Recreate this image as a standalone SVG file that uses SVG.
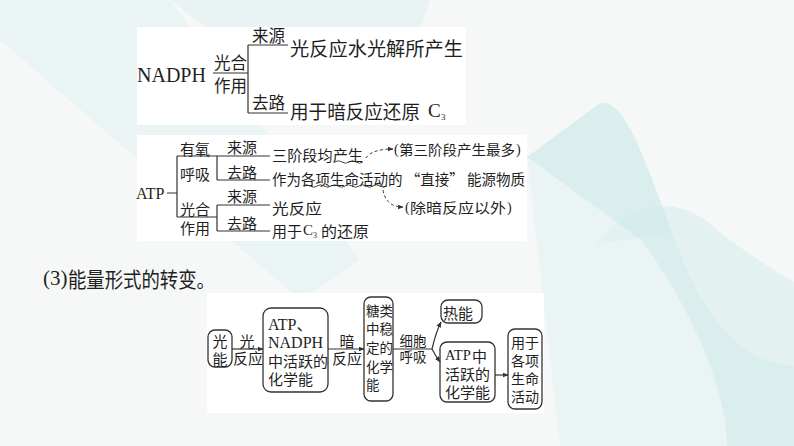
<svg xmlns="http://www.w3.org/2000/svg" width="794" height="446" viewBox="0 0 794 446">
<defs>
<style>
.cj{font-family:"Noto Sans CJK SC","Noto Sans",sans-serif;fill:#1f1f1f;dominant-baseline:central}
.lt{font-family:"Liberation Serif","Noto Sans CJK SC",serif;fill:#1f1f1f;dominant-baseline:central}
.ln{stroke:#333;stroke-width:1.2;fill:none}
.bx{stroke:#333;stroke-width:1.3;fill:#fff}
.dash{stroke:#333;stroke-width:1;fill:none;stroke-dasharray:3 2.5}
.wv{stroke:#333;stroke-width:0.9;fill:none}
.panel{fill:#fff}
</style>
<marker id="ah" viewBox="0 0 10 10" refX="9" refY="5" markerWidth="6" markerHeight="6" orient="auto" markerUnits="userSpaceOnUse">
<path d="M0,1 L10,5 L0,9 Z" fill="#333"/>
</marker>
</defs>
<!-- background -->
<rect x="0" y="0" width="794" height="446" fill="#f6f8f8"/>
<path d="M0,0 L170,0 L360,260 L300,300 L0,40 Z" fill="#d9eeee" opacity="0.4"/>
<path d="M170,0 L430,0 L420,30 L250,60 Z" fill="#d4ecec" opacity="0.35"/>
<path d="M527,157 L600,103 C625,98 645,160 672,232 C700,310 735,362 794,366 L794,446 L727,446 C727,400 700,320 641,240 Z" fill="#cfe9e9" opacity="0.7"/>
<path d="M595,245 C625,205 670,195 705,220 C735,245 760,262 794,282 L794,366 C735,362 700,310 672,232 Z" fill="#cfe9e9" opacity="0.5"/>
<path d="M527,157 L641,240 C700,320 727,400 727,446 L560,446 Z" fill="#e3f1f1" opacity="0.6"/>

<!-- panels -->
<rect class="panel" x="137" y="27" width="329" height="98"/>
<rect class="panel" x="137" y="135" width="390" height="106"/>
<rect class="panel" x="207" y="293" width="337" height="120"/>

<!-- heading -->
<g id="heading">
<text class="lt" x="43" y="278" font-size="21">(3)</text>
<text class="cj" x="68" y="278" font-size="21" textLength="147" lengthAdjust="spacingAndGlyphs">能量形式的转变。</text>
</g>

<!-- NADPH panel -->
<g id="nadph">
<text class="lt" x="137" y="75" font-size="20">NADPH</text>
<text class="cj" x="214" y="62" font-size="16.5">光合</text>
<text class="cj" x="214" y="85" font-size="16.5">作用</text>
<text class="cj" x="252" y="35" font-size="16.5">来源</text>
<text class="cj" x="252" y="102" font-size="16.5">去路</text>
<text class="cj" x="290" y="47" font-size="19" textLength="173" lengthAdjust="spacingAndGlyphs">光反应水光解所产生</text>
<text class="cj" x="290" y="110" font-size="19" textLength="130" lengthAdjust="spacingAndGlyphs">用于暗反应还原</text>
<text class="lt" x="428" y="110" font-size="19">C</text>
<text class="lt" x="441" y="117" font-size="9">3</text>
</g>

<!-- ATP panel -->
<g id="atp">
<text class="lt" x="136" y="193" font-size="16">ATP</text>
<text class="cj" x="180" y="148" font-size="15">有氧</text>
<text class="cj" x="180" y="173" font-size="15">呼吸</text>
<text class="cj" x="180" y="208" font-size="15">光合</text>
<text class="cj" x="180" y="227" font-size="15">作用</text>
<text class="cj" x="227" y="146" font-size="15">来源</text>
<text class="cj" x="227" y="171" font-size="15">去路</text>
<text class="cj" x="227" y="195" font-size="15">来源</text>
<text class="cj" x="227" y="222" font-size="15">去路</text>
<text class="cj" x="272" y="154" font-size="15" textLength="91" lengthAdjust="spacingAndGlyphs">三阶段均产生</text>
<text class="cj" x="272" y="178" font-size="15" textLength="253" lengthAdjust="spacingAndGlyphs">作为各项生命活动的 “直接” 能源物质</text>
<text class="cj" x="272" y="207" font-size="15" textLength="50" lengthAdjust="spacingAndGlyphs">光反应</text>
<text class="cj" x="272" y="230" font-size="15">用于</text>
<text class="lt" x="303" y="230" font-size="15">C</text>
<text class="lt" x="313" y="235" font-size="8">3</text>
<text class="cj" x="321" y="230" font-size="15" textLength="48" lengthAdjust="spacingAndGlyphs">的还原</text>
<text class="lt" x="394" y="149" font-size="14">(</text>
<text class="cj" x="399" y="149" font-size="14" textLength="116" lengthAdjust="spacingAndGlyphs">第三阶段产生最多</text>
<text class="lt" x="516" y="149" font-size="14">)</text>
<text class="lt" x="405" y="207" font-size="14">(</text>
<text class="cj" x="410" y="207" font-size="14" textLength="96" lengthAdjust="spacingAndGlyphs">除暗反应以外</text>
<text class="lt" x="507" y="207" font-size="14">)</text>
</g>

<!-- energy flow nodes -->
<g id="n-guangneng">
<rect class="bx" x="208" y="330" width="24" height="37" rx="7"/>
<text class="cj" x="220" y="340" font-size="15" text-anchor="middle">光</text>
<text class="cj" x="220" y="358" font-size="15" text-anchor="middle">能</text>
</g>
<g id="n-atp-nadph">
<rect class="bx" x="263" y="308" width="65" height="84" rx="8"/>
<text class="lt" x="268" y="324" font-size="16">ATP、</text>
<text class="lt" x="268" y="342" font-size="16">NADPH</text>
<text class="cj" x="268" y="360" font-size="15">中活跃的</text>
<text class="cj" x="268" y="378" font-size="15">化学能</text>
</g>
<g id="n-tang">
<rect class="bx" x="364" y="297" width="29" height="104" rx="7"/>
<text class="cj" x="366" y="310" font-size="13.5">糖类</text>
<text class="cj" x="366" y="328" font-size="13.5">中稳</text>
<text class="cj" x="366" y="347" font-size="13.5">定的</text>
<text class="cj" x="366" y="366" font-size="13.5">化学</text>
<text class="cj" x="366" y="384" font-size="13.5">能</text>
</g>
<g id="n-reneng">
<rect class="bx" x="441" y="300" width="41" height="23" rx="7"/>
<text class="cj" x="443" y="312" font-size="15">热能</text>
</g>
<g id="n-atp-zhong">
<rect class="bx" x="440" y="342" width="55" height="60" rx="7"/>
<text class="lt" x="445" y="355" font-size="14.5">ATP</text>
<text class="cj" x="472" y="355" font-size="15">中</text>
<text class="cj" x="445" y="373" font-size="15">活跃的</text>
<text class="cj" x="445" y="391" font-size="15">化学能</text>
</g>
<g id="n-yongyu">
<rect class="bx" x="508" y="329" width="34" height="80" rx="7"/>
<text class="cj" x="511" y="342" font-size="14">用于</text>
<text class="cj" x="511" y="360" font-size="14">各项</text>
<text class="cj" x="511" y="378" font-size="14">生命</text>
<text class="cj" x="511" y="396" font-size="14">活动</text>
</g>

<!-- connectors -->
<g id="connectors">
<path class="ln" d="M213,73 H248 M248,45 V113 M248,45 H288 M248,113 H288"/>
<path class="ln" d="M167,193 H177 M177,156 V217 M177,156 H217 M177,217 H217 M217,156 V180 M217,156 H270 M217,180 H270 M217,205 V231 M217,205 H270 M217,231 H270"/>
<path class="wv" d="M335,162 q3.5,-2.5 7,0 t7,0 t7,0 t7,0"/>
<path class="wv" d="M303,186 q3.5,-2.5 7,0 t7,0 t7,0 t7,0 t7,0 t7,0 t7,0 t7,0 t7,0 t7,0 t7,0 t7,0"/>
<path class="dash" d="M366,158 Q372,149 393,149" marker-end="url(#ah)"/>
<path class="dash" d="M383,190 Q386,207 403,207" marker-end="url(#ah)"/>
<text class="cj" x="247" y="340" font-size="15" text-anchor="middle">光</text>
<text class="cj" x="248" y="357" font-size="15" text-anchor="middle">反应</text>
<text class="cj" x="347" y="340" font-size="15" text-anchor="middle">暗</text>
<text class="cj" x="347" y="357" font-size="15" text-anchor="middle">反应</text>
<text class="cj" x="413" y="340" font-size="13.5" text-anchor="middle">细胞</text>
<text class="cj" x="413" y="356" font-size="13.5" text-anchor="middle">呼吸</text>
<line class="ln" x1="232" y1="349" x2="263" y2="349" marker-end="url(#ah)"/>
<line class="ln" x1="328" y1="349" x2="364" y2="349" marker-end="url(#ah)"/>
<path class="ln" d="M393,349 H432"/>
<path class="ln" d="M432,349 Q436,332 441,322" marker-end="url(#ah)"/>
<path class="ln" d="M432,349 Q435,355 440,362" marker-end="url(#ah)"/>
<line class="ln" x1="495" y1="375" x2="508" y2="375" marker-end="url(#ah)"/>
</g>
</svg>
